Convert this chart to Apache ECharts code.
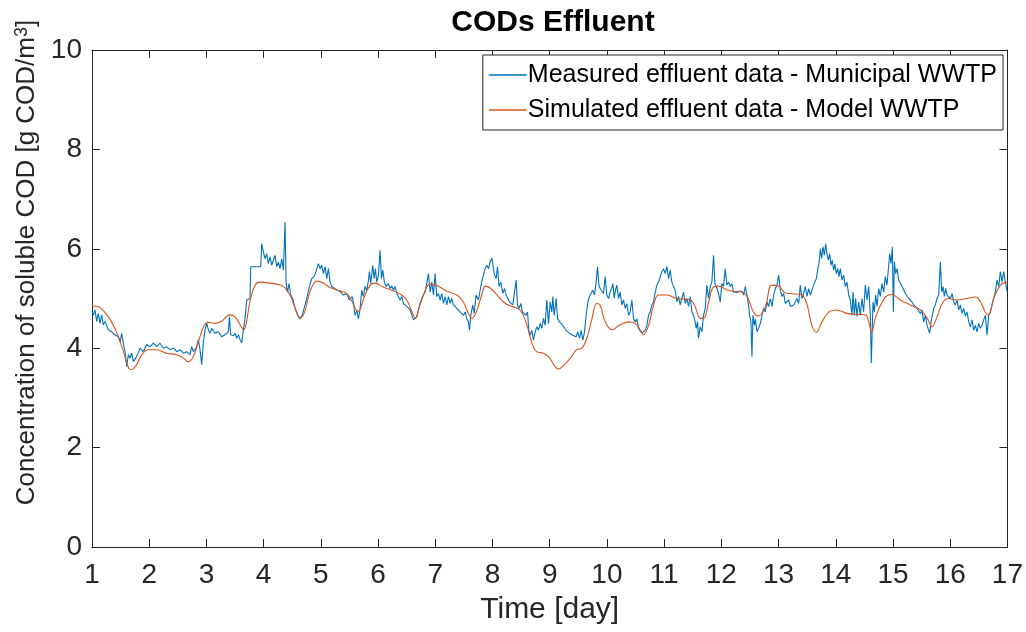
<!DOCTYPE html>
<html>
<head>
<meta charset="utf-8">
<script src="https://cdn.jsdelivr.net/npm/echarts@6/dist/echarts.min.js"></script>
<style>
  html, body { margin: 0; padding: 0; background: #fff; }
  #chart { width: 1026px; height: 632px; }
</style>
</head>
<body>
<div id="chart"></div>
<script>
// measured effluent (blue)
const measuredTime = [
  1.000, 1.023, 1.052, 1.082, 1.110, 1.140, 1.170, 1.198, 1.227, 1.285, 1.344, 1.402, 1.460, 1.490, 1.519, 1.548, 1.577, 1.606, 1.635, 1.664,
  1.693, 1.723, 1.781, 1.839, 1.897, 1.956, 2.014, 2.072, 2.130, 2.189, 2.247, 2.305, 2.364, 2.422, 2.480, 2.538, 2.597, 2.655, 2.713, 2.742,
  2.772, 2.830, 2.859, 2.888, 2.917, 2.946, 2.975, 3.005, 3.034, 3.063, 3.092, 3.150, 3.209, 3.267,
  3.296, 3.325, 3.355, 3.384, 3.401, 3.424, 3.471, 3.500, 3.529, 3.559, 3.588, 3.617, 3.646, 3.675, 3.704, 3.733, 3.762, 3.774, 3.949, 3.966,
  3.996, 4.025, 4.054, 4.083, 4.112, 4.141, 4.170, 4.200, 4.229, 4.258, 4.287, 4.316, 4.345, 4.374, 4.392, 4.415, 4.444, 4.473, 4.508, 4.549,
  4.590, 4.625, 4.666, 4.707, 4.753, 4.800, 4.840, 4.881, 4.916, 4.957, 4.986, 5.015, 5.045, 5.074, 5.103, 5.132, 5.161, 5.190, 5.219, 5.278,
  5.336, 5.394, 5.452, 5.499, 5.546,
  5.569, 5.598, 5.628, 5.657, 5.686, 5.715, 5.744, 5.773, 5.802, 5.832, 5.849, 5.872, 5.907, 5.931, 5.954, 5.977, 6.006, 6.035, 6.059, 6.082,
  6.111, 6.140, 6.181, 6.210, 6.239, 6.269, 6.298, 6.327, 6.356, 6.385, 6.414, 6.443, 6.473, 6.502, 6.531, 6.560, 6.589, 6.618, 6.647, 6.677,
  6.706, 6.735, 6.764, 6.793, 6.822, 6.851, 6.880, 6.910, 6.939, 6.968, 6.997, 7.026, 7.055, 7.084, 7.114, 7.143, 7.172, 7.201, 7.230, 7.259,
  7.288, 7.318, 7.347, 7.376, 7.405, 7.434, 7.463, 7.492, 7.522, 7.551, 7.580, 7.597, 7.620, 7.655, 7.679, 7.714, 7.755, 7.784, 7.819,
  7.842, 7.871, 7.900, 7.930, 7.959, 7.988, 8.005, 8.029, 8.064, 8.087, 8.116, 8.145, 8.180, 8.209, 8.239, 8.268, 8.297, 8.326, 8.355, 8.384,
  8.413, 8.437, 8.466, 8.495, 8.524, 8.553, 8.582, 8.612, 8.635, 8.658, 8.687, 8.716, 8.746, 8.775, 8.804, 8.833, 8.862, 8.891, 8.920, 8.949,
  8.979, 9.008, 9.037, 9.054, 9.078, 9.113, 9.136, 9.171, 9.200, 9.229, 9.258, 9.287, 9.317, 9.346, 9.375, 9.404, 9.433, 9.462, 9.491, 9.521,
  9.550, 9.579, 9.608, 9.637, 9.666, 9.695, 9.725, 9.754, 9.783, 9.812, 9.835, 9.859, 9.882, 9.911, 9.940, 9.969, 9.998, 10.028, 10.057, 10.092,
  10.104, 10.127, 10.150, 10.174, 10.203, 10.232, 10.261, 10.290, 10.319, 10.348, 10.378, 10.407, 10.436, 10.465, 10.494, 10.523, 10.552, 10.581, 10.610, 10.640,
  10.669, 10.698, 10.727, 10.756, 10.785, 10.815, 10.844, 10.873, 10.902, 10.931, 10.960, 10.989, 11.019, 11.048, 11.077, 11.106, 11.135, 11.164, 11.193, 11.223,
  11.252, 11.281, 11.310, 11.339, 11.368, 11.397, 11.426, 11.456, 11.485, 11.514, 11.543, 11.560, 11.584, 11.601, 11.630, 11.660, 11.689, 11.718, 11.747, 11.776,
  11.805, 11.834, 11.864, 11.887, 11.910, 11.933, 11.957, 11.980, 12.009, 12.038, 12.067, 12.097, 12.126, 12.155, 12.184, 12.213, 12.242, 12.271, 12.330, 12.365,
  12.389, 12.418, 12.448, 12.477, 12.494, 12.517, 12.535, 12.552, 12.576, 12.593, 12.622, 12.652, 12.681, 12.710, 12.739, 12.768, 12.797, 12.826, 12.855, 12.885,
  12.914, 12.943, 12.972, 13.001, 13.030, 13.059, 13.089, 13.118, 13.147, 13.176, 13.205, 13.234, 13.263, 13.293, 13.322, 13.351, 13.380, 13.409, 13.438, 13.467,
  13.497, 13.526, 13.555, 13.584, 13.613, 13.642, 13.660, 13.683, 13.706, 13.730, 13.753, 13.776, 13.800, 13.823, 13.846, 13.870, 13.893, 13.916, 13.939, 13.963,
  13.986, 14.009, 14.033, 14.056, 14.079, 14.108, 14.138, 14.167, 14.196, 14.225, 14.254, 14.283, 14.301, 14.324, 14.347, 14.371, 14.400, 14.429, 14.458, 14.487,
  14.516, 14.545, 14.575, 14.604, 14.621, 14.639,
  14.651, 14.674, 14.697, 14.721, 14.750, 14.779, 14.808, 14.837, 14.866, 14.895, 14.925, 14.942, 14.965, 14.989, 15.006, 15.024, 15.047, 15.070, 15.099, 15.128,
  15.158, 15.187, 15.216, 15.245, 15.274, 15.303, 15.332, 15.362, 15.391, 15.420, 15.449, 15.478, 15.507, 15.536, 15.566, 15.595, 15.624, 15.641, 15.665, 15.688,
  15.711, 15.740, 15.769, 15.799, 15.828, 15.851, 15.874, 15.898, 15.921, 15.944, 15.973, 16.003, 16.032, 16.061, 16.090, 16.119, 16.148, 16.177, 16.207, 16.236,
  16.265, 16.294, 16.323, 16.352, 16.381, 16.411, 16.440, 16.469, 16.498, 16.527, 16.556, 16.585, 16.615, 16.644, 16.673, 16.702, 16.731, 16.760, 16.789, 16.818,
  16.848, 16.877, 16.906, 16.935, 16.964, 16.993
];
const measuredValue = [
  4.74, 4.67, 4.77, 4.54, 4.70, 4.50, 4.67, 4.47, 4.54, 4.37, 4.33, 4.27, 4.23, 4.13, 4.30, 4.10, 3.93, 3.63, 3.87, 3.80,
  3.90, 3.73, 3.83, 4.00, 3.93, 4.07, 4.03, 4.10, 4.03, 4.10, 4.00, 4.03, 3.97, 4.00, 3.93, 3.97, 3.90, 3.93, 3.87, 4.03,
  3.93, 4.03, 4.17, 3.97, 3.67, 4.10, 4.37, 4.50, 4.37, 4.30, 4.40, 4.30, 4.33, 4.23,
  4.20, 4.27, 4.23, 4.33, 4.63, 4.27, 4.25, 4.30, 4.20, 4.27, 4.17, 4.11, 4.37, 4.60, 4.97, 5.00, 5.00, 5.64, 5.64, 6.10,
  5.94, 5.80, 5.90, 5.70, 5.84, 5.67, 5.77, 5.87, 5.64, 5.73, 5.60, 5.80, 5.57, 6.54, 5.33, 5.13, 5.30, 5.07, 5.00, 4.80,
  4.67, 4.60, 4.64, 4.80, 5.00, 5.24, 5.40, 5.44, 5.54, 5.70, 5.60, 5.67, 5.50, 5.64, 5.40, 5.60, 5.33, 5.24, 5.27, 5.17,
  5.14, 5.07, 5.10, 4.97, 5.04,
  4.93, 4.66, 4.76, 4.59, 4.80, 5.17, 5.04, 5.24, 5.17, 5.37, 5.54, 5.30, 5.67, 5.40, 5.60, 5.33, 5.47, 5.97, 5.40, 5.57,
  5.33, 5.24, 5.30, 5.20, 5.25, 5.17, 5.24, 5.10, 5.07, 4.97, 5.04, 4.90, 4.93, 4.84, 4.87, 4.77, 4.67, 4.57, 4.55, 4.63,
  4.77, 4.90, 5.00, 5.07, 5.13, 5.10, 5.50, 5.13, 5.33, 5.07, 5.50, 5.04, 5.10, 4.97, 5.10, 4.90, 5.04, 4.87, 5.04, 4.90,
  5.00, 4.87, 4.90, 4.80, 4.84, 4.73, 4.77, 4.66, 4.73, 4.59, 4.53, 4.36, 4.66, 4.87, 4.70, 5.07, 4.97, 5.17, 5.37,
  5.47, 5.60, 5.67, 5.60, 5.74, 5.81, 5.70, 5.50, 5.40, 5.64, 5.24, 5.33, 5.10, 5.20, 5.07, 5.10, 4.93, 4.97, 4.87, 4.90,
  5.37, 4.87, 4.80, 4.90, 4.73, 4.77, 4.66, 4.73, 4.36, 4.26, 4.36, 4.16, 4.33, 4.43, 4.36, 4.50, 4.40, 4.60, 4.46, 4.97,
  4.50, 4.93, 4.73, 5.04, 4.66, 5.00, 4.60, 4.53, 4.57, 4.46, 4.43, 4.36, 4.40, 4.30, 4.33, 4.26, 4.30, 4.23, 4.33, 4.20,
  4.36, 4.16, 4.33, 4.66, 4.93, 5.04, 5.00, 5.17, 5.07, 5.33, 5.64, 5.27, 5.20, 5.24, 5.10, 5.44, 5.07, 5.00, 5.13, 5.24,
  5.30, 5.00, 5.17, 5.27, 5.00, 5.13, 4.87, 4.97, 4.80, 4.90, 4.66, 4.73, 4.97, 4.59, 4.53, 4.59, 4.40, 4.36, 4.30, 4.28,
  4.36, 4.46, 4.66, 4.73, 4.87, 4.93, 5.13, 5.27, 5.33, 5.44, 5.54, 5.60, 5.50, 5.64, 5.40, 5.57, 5.33, 5.24, 5.17, 4.93,
  5.04, 4.87, 5.00, 5.13, 4.90, 5.00, 4.84, 5.04, 4.73, 4.66, 4.53, 4.40, 4.53, 4.20, 4.43, 4.33, 4.66, 4.80, 5.27, 5.00,
  5.24, 5.33, 5.87, 5.30, 5.24, 5.17, 5.07, 4.93, 5.30, 5.24, 5.60, 5.27, 5.33, 5.24, 5.30, 5.13, 5.17, 5.12, 5.15, 5.14,
  5.07, 5.24, 5.07, 4.84, 4.66, 4.53, 3.83, 4.66, 4.46, 4.59, 4.33, 4.40, 4.50, 4.66, 4.80, 4.73, 4.93, 4.84, 5.00, 4.84,
  5.07, 5.20, 5.27, 5.47, 5.17, 5.04, 5.10, 4.90, 4.87, 4.97, 4.84, 4.80, 4.87, 4.93, 5.00, 4.90, 5.27, 5.00, 5.10, 5.24,
  5.04, 5.20, 5.07, 5.17, 5.27, 5.30, 5.40, 5.57, 5.70, 6.00, 5.80, 6.04, 5.87, 6.10, 5.90, 5.77, 5.90, 5.67, 5.77, 5.57,
  5.70, 5.50, 5.60, 5.44, 5.60, 5.37, 5.47, 5.24, 5.33, 5.07, 4.97, 4.66, 5.13, 4.66, 5.00, 4.64, 4.93, 4.66, 5.00, 4.73,
  5.27, 4.97, 5.24, 4.66, 3.70, 4.46,
  4.93, 4.73, 5.07, 4.84, 5.20, 5.04, 5.30, 5.13, 5.44, 5.27, 5.67, 5.90, 5.70, 6.04, 4.73, 5.74, 5.50, 5.60, 5.37, 5.40,
  5.24, 5.27, 5.10, 5.07, 5.00, 4.97, 4.93, 4.87, 4.90, 4.80, 4.84, 4.70, 4.77, 4.53, 4.66, 4.46, 4.36, 4.30, 4.53, 4.66,
  4.80, 4.87, 5.00, 5.07, 5.74, 5.13, 5.24, 5.04, 5.20, 5.07, 5.10, 5.00, 5.10, 4.93, 4.87, 4.97, 4.77, 4.87, 4.70, 4.80,
  4.64, 4.73, 4.53, 4.43, 4.57, 4.36, 4.46, 4.33, 4.50, 4.40, 4.46, 4.57, 4.66, 4.26, 4.66, 4.73, 4.87, 5.00, 5.13, 5.37,
  5.24, 5.54, 5.33, 5.54, 5.33, 5.14
];

// simulated effluent (orange), smooth curve read at its turning points
const simTime = [
  1.00, 1.10, 1.26, 1.40, 1.55, 1.64, 1.69, 1.78, 1.87, 1.98, 2.13, 2.30, 2.48, 2.60, 2.68, 2.77, 2.86, 2.95, 3.03, 3.15,
  3.27, 3.41, 3.50, 3.59, 3.65, 3.70, 3.76, 3.85, 3.94, 4.11, 4.29, 4.37, 4.46, 4.55, 4.61, 4.64, 4.72, 4.81, 4.93, 5.04,
  5.16, 5.34, 5.45, 5.55, 5.60, 5.66, 5.74, 5.86, 5.95, 6.09, 6.27, 6.41, 6.50, 6.59, 6.65, 6.73, 6.85, 6.91, 7.03, 7.20,
  7.38, 7.49, 7.58, 7.64, 7.72, 7.82, 7.87, 7.96, 8.08, 8.19, 8.31, 8.43, 8.51, 8.60, 8.69, 8.77, 8.89, 8.98, 9.07, 9.15,
  9.24, 9.36, 9.47, 9.56, 9.65, 9.74, 9.82, 9.88, 9.97, 10.09, 10.23, 10.38, 10.49, 10.58, 10.64, 10.73, 10.81, 10.90, 11.05, 11.22,
  11.46, 11.54, 11.63, 11.69, 11.78, 11.86, 11.95, 12.10, 12.27, 12.36, 12.45, 12.56, 12.65, 12.77, 12.88, 13.00, 13.12, 13.29, 13.41, 13.50,
  13.58, 13.66, 13.76, 13.88, 14.02, 14.20, 14.37, 14.52, 14.57, 14.63, 14.69, 14.81, 14.92, 14.98, 15.13, 15.30, 15.48, 15.60, 15.68, 15.77,
  15.86, 15.97, 16.12, 16.29, 16.44, 16.53, 16.61, 16.67, 16.76, 16.88, 17.00
];
const simValue = [
  4.85, 4.84, 4.67, 4.40, 3.93, 3.60, 3.57, 3.67, 3.87, 3.97, 3.97, 3.90, 3.87, 3.80, 3.73, 3.83, 4.13, 4.43, 4.52, 4.50,
  4.55, 4.67, 4.63, 4.47, 4.37, 4.53, 4.93, 5.27, 5.33, 5.31, 5.27, 5.22, 5.07, 4.81, 4.64, 4.60, 4.74, 5.14, 5.35, 5.31,
  5.22, 5.15, 5.10, 4.93, 4.80, 4.74, 4.97, 5.27, 5.31, 5.23, 5.15, 5.07, 4.97, 4.74, 4.60, 4.87, 5.23, 5.29, 5.26, 5.15,
  5.07, 4.93, 4.70, 4.60, 4.74, 5.10, 5.25, 5.21, 5.07, 4.93, 4.85, 4.81, 4.73, 4.47, 4.10, 3.93, 3.90, 3.83, 3.67, 3.58,
  3.65, 3.80, 3.97, 4.00, 4.20, 4.60, 4.90, 4.87, 4.53, 4.37, 4.47, 4.53, 4.50, 4.37, 4.27, 4.47, 4.84, 5.07, 5.07, 5.00,
  4.97, 4.84, 4.60, 4.60, 4.94, 5.23, 5.25, 5.17, 5.14, 5.13, 5.04, 4.73, 4.65, 4.84, 5.27, 5.25, 5.11, 5.09, 5.07, 4.87,
  4.47, 4.32, 4.53, 4.73, 4.77, 4.70, 4.68, 4.67, 4.55, 4.32, 4.60, 4.93, 5.07, 5.08, 4.97, 4.87, 4.77, 4.60, 4.43, 4.63,
  4.90, 5.00, 4.97, 5.00, 5.03, 4.93, 4.73, 4.67, 5.00, 5.27, 5.33
];

const xTicks = [1, 17, 1];   // min, max, step
const yTicks = [0, 10, 2];

const zip = (xs, ys) => xs.map((x, i) => [x, ys[i]]);

const FONT = 'Liberation Sans, Arial, sans-serif';
const AXIS = '#262626';

const chart = echarts.init(document.getElementById('chart'), null, { renderer: 'canvas' });

const boxAxis = {
  axisLine: { show: true, onZero: false, lineStyle: { color: AXIS, width: 1 } },
  axisTick: { show: true, inside: true, length: 8, lineStyle: { color: AXIS } },
  splitLine: { show: false }
};

chart.setOption({
  backgroundColor: '#fff',
  animation: false,
  title: {
    text: 'CODs Effluent',
    left: 548,
    textAlign: 'center',
    top: 3,
    textStyle: { fontFamily: FONT, fontSize: 30, fontWeight: 'bold', color: '#000' }
  },
  legend: {
    right: 23,
    top: 55,
    orient: 'vertical',
    align: 'left',
    icon: 'rect',
    itemWidth: 38,
    itemHeight: 1.5,
    itemGap: 5,
    padding: [5, 6, 5, 6],
    backgroundColor: '#fff',
    borderColor: AXIS,
    borderWidth: 1,
    textStyle: { fontFamily: FONT, fontSize: 25, color: '#000', lineHeight: 30, padding: [0, 0, 0, -4] },
    data: ['Measured effluent data - Municipal WWTP', 'Simulated effluent data - Model WWTP']
  },
  grid: { left: 92, right: 18, top: 50, bottom: 85, containLabel: false },
  xAxis: [
    Object.assign({}, boxAxis, {
      type: 'value', position: 'bottom',
      min: xTicks[0], max: xTicks[1], interval: xTicks[2],
      name: 'Time [day]', nameLocation: 'middle', nameGap: 48,
      nameTextStyle: { fontFamily: FONT, fontSize: 30, color: AXIS },
      axisLabel: { fontFamily: FONT, fontSize: 28, color: AXIS, margin: 14 }
    }),
    Object.assign({}, boxAxis, {
      type: 'value', position: 'top',
      min: xTicks[0], max: xTicks[1], interval: xTicks[2],
      axisLabel: { show: false }
    })
  ],
  yAxis: [
    Object.assign({}, boxAxis, {
      type: 'value', position: 'left',
      min: yTicks[0], max: yTicks[1], interval: yTicks[2],
      name: 'Concentration of soluble COD [g COD/m{sup|3}]',
      nameLocation: 'middle', nameGap: 48, nameRotate: 90,
      nameTextStyle: {
        fontFamily: FONT, fontSize: 26, color: AXIS,
        padding: [0, 0, 0, 72],
        rich: { sup: { fontFamily: FONT, fontSize: 18, color: AXIS, verticalAlign: 'top', padding: [0, 0, 10, 0] } }
      },
      axisLabel: { fontFamily: FONT, fontSize: 28, color: AXIS, margin: 10 }
    }),
    Object.assign({}, boxAxis, {
      type: 'value', position: 'right',
      min: yTicks[0], max: yTicks[1], interval: yTicks[2],
      axisLabel: { show: false }
    })
  ],
  series: [
    {
      name: 'Measured effluent data - Municipal WWTP',
      type: 'line',
      data: zip(measuredTime, measuredValue),
      symbol: 'none',
      lineStyle: { color: '#0072BD', width: 1.1 },
      itemStyle: { color: '#0072BD' },
      z: 2
    },
    {
      name: 'Simulated effluent data - Model WWTP',
      type: 'line',
      data: zip(simTime, simValue),
      symbol: 'none',
      smooth: 0.4,
      lineStyle: { color: '#D95319', width: 1.1 },
      itemStyle: { color: '#D95319' },
      z: 3
    }
  ]
});
</script>
</body>
</html>
